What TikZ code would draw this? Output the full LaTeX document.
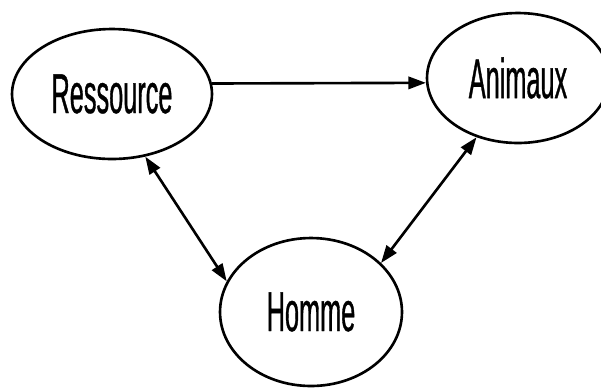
\documentclass[tikz,border=0pt]{standalone}
\usepackage{fontspec}
\usetikzlibrary{shapes.geometric}
\usetikzlibrary{arrows.meta}
\newfontfamily\lblfont[FakeStretch=0.45, FakeBold=0.6]{Liberation Sans}
\tikzset{bubble/.style = {ellipse, draw, line width=1.5pt, inner sep=0pt,
                          font=\lblfont\fontsize{32}{36}\selectfont},
         link/.style = {line width=1.5pt, -{Triangle[length=10pt,width=7pt]}},
         duallink/.style = {link, {Triangle[length=10pt,width=7pt]}-{Triangle[length=10pt,width=7pt]}}}

\begin{document}
\begin{tikzpicture}[x=0.02cm, y=-0.02cm]
    \useasboundingbox [fill=white] (0, 0) rectangle (601, 387);

    \node [bubble, minimum width=4cm, minimum height=2.6cm] (res) at (112, 94) {Ressource};
    \node [bubble, minimum width=3.64cm, minimum height=2.6cm] (ani) at (518, 78) {Animaux};
    \node [bubble, minimum width=3.64cm, minimum height=2.96cm] (hom) at (311, 312) {Homme};

    \draw [link] (res.6) -- (ani.183);
    \draw [duallink] (res.-62) -- (hom.160);
    \draw [duallink] (ani.235) -- (hom.35);
\end{tikzpicture}
\end{document}
